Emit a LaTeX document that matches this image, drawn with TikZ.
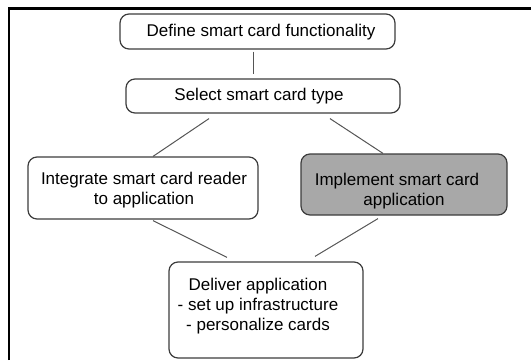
\documentclass[tikz,border=0pt]{standalone}
\usepackage{fontspec}
\setmainfont{Liberation Sans}
\usetikzlibrary{calc}
\definecolor{boxline}{HTML}{3C3C3C}
\definecolor{conline}{HTML}{555555}
\definecolor{darkfill}{HTML}{A8A8A8}
\begin{document}
\begin{tikzpicture}[x=1pt,y=-1pt,
  box/.style={draw=boxline, line width=1.2pt, rounded corners=9pt, fill=white, inner sep=0pt},
  txt/.style={font=\fontsize{17}{20}\selectfont, align=center, inner sep=0pt, text=black},
  con/.style={draw=conline, line width=1pt}]
\useasboundingbox (0,0) rectangle (531,360);
% frame
\draw[line width=2.5pt, black] (9,360) -- (9,8.5) -- (531,8.5);
% boxes
\node[box, minimum width=275pt, minimum height=35pt] (b1) at (257.5,31.5) {};
\node[box, minimum width=274pt, minimum height=34pt] (b2) at (263,96) {};
\node[box, minimum width=230pt, minimum height=62pt] (b3) at (143,188) {};
\node[box, fill=darkfill, minimum width=206pt, minimum height=61pt] (b4) at (404,184.5) {};
\node[box, minimum width=194pt, minimum height=96pt] (b5) at (266,310) {};
% texts
\node[txt, anchor=base] (t1) at (261,36) {Define smart card functionality};
\node[txt, anchor=base] (t2) at (259,100) {Select smart card type};
\node[txt, anchor=north] (t3) at (144,171.8) {Integrate smart card reader\\to application\hspace{23pt}};
\node[txt, anchor=north] (t4) at (397,173) {Implement smart card\hspace{6pt}\\\hspace{14pt}application};
\node[txt, anchor=north] (t5) at (258,277.8) {Deliver application\\- set up infrastructure\\- personalize cards};
% connectors
\draw[con] ([shift={(-4.5,2)}]b1.south) -- ([shift={(-10,-4)}]b2.north);
\draw[con] ([shift={(-54,5)}]b2.south) -- ([shift={(10,0)}]b3.north);
\draw[con] ([shift={(67,5)}]b2.south) -- ([shift={(-21,0)}]b4.north);
\draw[con] ([shift={(10,1)}]b3.south) -- ([shift={(-39,-4)}]b5.north);
\draw[con] ([shift={(-26,3)}]b4.south) -- ([shift={(49,-5)}]b5.north);
\end{tikzpicture}
\end{document}
